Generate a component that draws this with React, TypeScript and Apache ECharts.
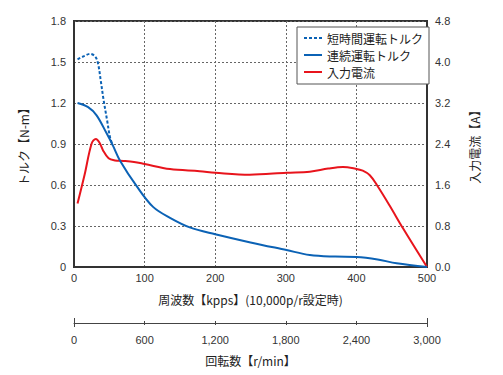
import React, { useEffect, useRef } from "react";
import * as echarts from "echarts";

const shortTorque: [number, number][] = [
  [5, 1.52], [15, 1.545], [23, 1.56], [30, 1.54], [34, 1.49], [38, 1.36],
  [42, 1.22], [47, 1.07], [51, 0.95], [55, 0.89],
];
const contTorque: [number, number][] = [
  [5, 1.2], [20, 1.17], [32, 1.11], [46, 0.98], [55, 0.89], [65, 0.78],
  [89, 0.59], [112, 0.44], [136, 0.36], [164, 0.29], [200, 0.24], [250, 0.18],
  [301, 0.124], [334, 0.088], [370, 0.076], [400, 0.073], [430, 0.055],
  [457, 0.027], [500, 0],
];
const current: [number, number][] = [
  [5, 1.24], [15, 1.8], [25, 2.41], [31, 2.5], [36, 2.43], [41, 2.28],
  [49, 2.12], [58, 2.08], [70, 2.07], [85, 2.05], [100, 2.01], [136, 1.91],
  [178, 1.87], [200, 1.84], [249, 1.8], [301, 1.84], [334, 1.86], [360, 1.92],
  [381, 1.95], [398, 1.92], [409, 1.88], [419, 1.79], [429, 1.6], [447, 1.2],
  [466, 0.755], [500, 0],
];
const seriesNames = ["短時間運転トルク", "連続運転トルク", "入力電流"];
const xName = "周波数【kpps】(10,000p/r設定時)";
const rpmName = "回転数【r/min】";
const leftName = "トルク【N-m】";
const rightName = "入力電流【A】";

const BLUE = "#0b62b5";
const RED = "#e8141c";
const NUM_FONT = "'Liberation Sans', Arial, sans-serif";
const JP_FONT = "'Noto Sans CJK JP', sans-serif";

export default function App() {
  const ref = useRef<HTMLDivElement>(null);
  useEffect(() => {
    const chart = echarts.init(ref.current!, null, { renderer: "svg" });
    const labelStyle = { color: "#333", fontSize: 11, fontFamily: NUM_FONT };
    const nameStyle = { color: "#222", fontSize: 12, fontFamily: JP_FONT };
    const rpmBase = {
      gridIndex: 1,
      type: "value" as const,
      min: 0,
      max: 3000,
      position: "bottom" as const,
      splitLine: { show: false },
    };
    chart.setOption({
      animation: false,
      grid: [
        {
          left: 74, right: 76, top: 21, bottom: 108,
          show: true, borderColor: "#333", borderWidth: 2,
          backgroundColor: "transparent",
          outerBoundsMode: "none",
          containLabel: false,
        },
        {
          left: 74, right: 76, top: 313, height: 10, show: false,
          outerBoundsMode: "none",
          containLabel: false,
        },
      ],
      legend: {
        orient: "vertical",
        left: 297,
        top: 27,
        data: seriesNames,
        backgroundColor: "#fff",
        borderColor: "#555",
        borderWidth: 1,
        borderRadius: 0,
        padding: [5, 6, 6, 6],
        itemWidth: 18,
        itemHeight: 13,
        itemGap: 5,
        itemStyle: { opacity: 0 },
        textStyle: { color: "#222", fontSize: 12, fontFamily: JP_FONT },
      },
      xAxis: [
        {
          gridIndex: 0,
          type: "value",
          min: 0,
          max: 500,
          interval: 100,
          name: xName,
          nameLocation: "middle",
          nameGap: 26,
          nameTextStyle: nameStyle,
          axisLine: { show: true, lineStyle: { color: "#333", width: 2 } },
          axisTick: { show: false },
          axisLabel: { ...labelStyle, margin: 5 },
          splitLine: { show: true, lineStyle: { color: "#666", type: [2, 2], width: 1 } },
        },
        {
          ...rpmBase,
          interval: 600,
          name: rpmName,
          nameLocation: "middle",
          nameGap: 31,
          nameTextStyle: nameStyle,
          axisLine: { show: true, lineStyle: { color: "#444", width: 1 } },
          axisTick: { show: true, length: 2, lineStyle: { color: "#444" } },
          axisLabel: {
            ...labelStyle,
            margin: 11,
            formatter: (v: number) => v.toLocaleString("en-US"),
          },
        },
        {
          ...rpmBase,
          interval: 600,
          axisLine: { show: false },
          axisTick: { show: true, inside: true, length: 2, lineStyle: { color: "#444" } },
          axisLabel: { show: false },
        },
        {
          ...rpmBase,
          interval: 3000,
          axisLine: { show: false },
          axisTick: { show: true, length: 4, lineStyle: { color: "#444" } },
          axisLabel: { show: false },
        },
        {
          ...rpmBase,
          interval: 3000,
          axisLine: { show: false },
          axisTick: { show: true, inside: true, length: 5, lineStyle: { color: "#444" } },
          axisLabel: { show: false },
        },
      ],
      yAxis: [
        {
          gridIndex: 0,
          type: "value",
          min: 0,
          max: 1.8,
          interval: 0.3,
          name: leftName,
          nameLocation: "middle",
          nameGap: 45,
          nameTextStyle: nameStyle,
          axisLine: { show: true, lineStyle: { color: "#333", width: 2 } },
          axisTick: { show: false },
          axisLabel: { ...labelStyle, margin: 8 },
          splitLine: { show: true, lineStyle: { color: "#666", type: [2, 2], width: 1 } },
        },
        {
          gridIndex: 0,
          type: "value",
          position: "right",
          min: 0,
          max: 4.8,
          interval: 0.8,
          name: rightName,
          nameLocation: "middle",
          nameGap: 41,
          nameRotate: 90,
          nameTextStyle: nameStyle,
          axisLine: { show: true, lineStyle: { color: "#333", width: 2 } },
          axisTick: { show: false },
          axisLabel: { ...labelStyle, margin: 8, formatter: (v: number) => v.toFixed(1) },
          splitLine: { show: false },
        },
        {
          gridIndex: 1,
          type: "value",
          min: 0,
          max: 1,
          show: false,
        },
      ],
      series: [
        {
          name: seriesNames[0],
          type: "line",
          xAxisIndex: 0,
          yAxisIndex: 0,
          data: shortTorque,
          smooth: 0.35,
          symbol: "none",
          lineStyle: { color: BLUE, width: 2, type: [3, 2] },
          itemStyle: { color: BLUE },
          z: 3,
        },
        {
          name: seriesNames[1],
          type: "line",
          xAxisIndex: 0,
          yAxisIndex: 0,
          data: contTorque,
          smooth: 0.35,
          symbol: "none",
          lineStyle: { color: BLUE, width: 2 },
          itemStyle: { color: BLUE },
          z: 3,
        },
        {
          name: seriesNames[2],
          type: "line",
          xAxisIndex: 0,
          yAxisIndex: 1,
          data: current,
          smooth: 0.35,
          symbol: "none",
          lineStyle: { color: RED, width: 2 },
          itemStyle: { color: RED },
          z: 2,
        },
      ],
    });
    return () => chart.dispose();
  }, []);
  return (
    <div
      ref={ref}
      style={{ position: "absolute", left: 0, top: 0, width: 503, height: 375, background: "#fff" }}
    />
  );
}
